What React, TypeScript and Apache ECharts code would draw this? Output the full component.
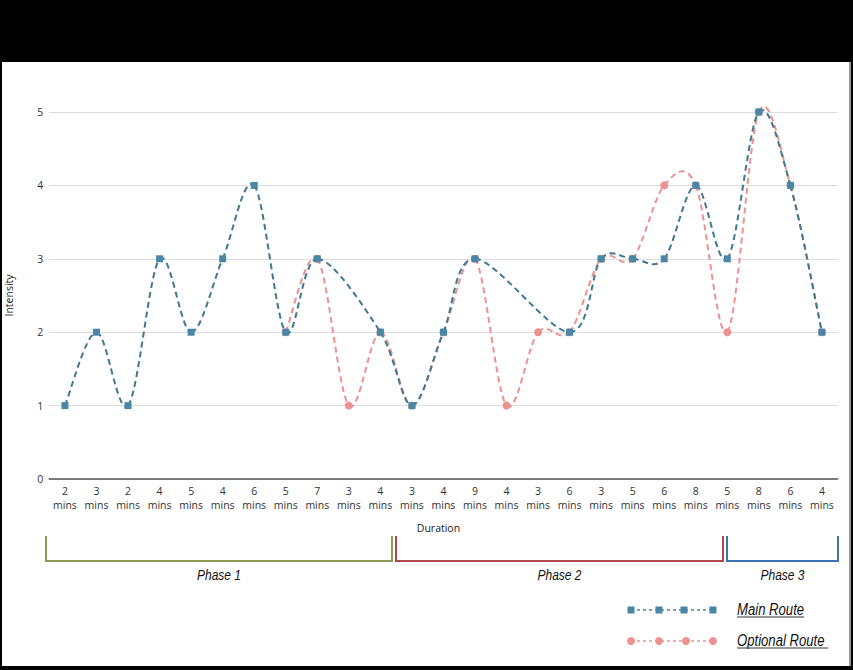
import React, { useEffect, useRef } from "react";
import * as echarts from "echarts";

const categories = ["2","3","2","4","5","4","6","5","7","3","4","3","4","9","4","3","6","3","5","6","8","5","8","6","4"];
const mainRoute = [1,2,1,3,2,3,4,2,3,null,2,1,2,3,null,null,2,3,3,3,4,3,5,4,2];
const optionalRoute = [null,null,null,null,null,null,null,2,3,1,2,1,2,3,1,2,2,3,3,4,4,2,5,4,2];
const phaseNames = ["Phase 1", "Phase 2", "Phase 3"];
const legendNames = ["Main Route", "Optional Route"];

const BLUE = "#4a87a6";
const BLUE_LINE = "#3f7893";
const PINK = "#ee9191";
const ITALIC_FONT = "'Liberation Sans', Arial, sans-serif";
const SANS = "'Open Sans', 'Noto Sans', sans-serif";

// segments of a connected (nulls skipped) curve: [x1,y1,x2,y2,x0,y0,x3,y3]
function buildSegments(arr: (number | null)[]) {
  const pts: number[][] = [];
  arr.forEach((v, i) => {
    if (v !== null && v !== undefined) pts.push([i, v]);
  });
  const segs: number[][] = [];
  for (let k = 0; k < pts.length - 1; k++) {
    const p0 = pts[k - 1] || pts[k];
    const p1 = pts[k];
    const p2 = pts[k + 1];
    const p3 = pts[k + 2] || pts[k + 1];
    segs.push([p1[0], p1[1], p2[0], p2[1], p0[0], p0[1], p3[0], p3[1]]);
  }
  return segs;
}

function curveSeries(name: string, arr: (number | null)[], color: string, z: number) {
  return {
    name,
    type: "custom",
    data: buildSegments(arr),
    dimensions: ["x1", "y1", "x2", "y2", "x0", "y0", "x3", "y3"],
    encode: { x: 0, y: 1 },
    clip: false,
    silent: true,
    z,
    renderItem: (params: any, api: any) => {
      const p1 = api.coord([api.value(0), api.value(1)]);
      const p2 = api.coord([api.value(2), api.value(3)]);
      const p0 = api.coord([api.value(4), api.value(5)]);
      const p3 = api.coord([api.value(6), api.value(7)]);
      return {
        type: "bezierCurve",
        shape: {
          x1: p1[0],
          y1: p1[1],
          x2: p2[0],
          y2: p2[1],
          cpx1: p1[0] + (p2[0] - p0[0]) / 6,
          cpy1: p1[1] + (p2[1] - p0[1]) / 6,
          cpx2: p2[0] - (p3[0] - p1[0]) / 6,
          cpy2: p2[1] - (p3[1] - p1[1]) / 6,
        },
        style: { stroke: color, lineWidth: 2, lineDash: [6, 4], fill: null },
      };
    },
  };
}

export default function App() {
  const ref = useRef<HTMLDivElement>(null);
  useEffect(() => {
    if (!ref.current) return;
    const chart = echarts.init(ref.current, null, { renderer: "svg" });
    const phaseSpans = [
      { x1: 46, x2: 392, color: "#8a9b5a" },
      { x1: 396, x2: 723, color: "#b3464d" },
      { x1: 727, x2: 838, color: "#3f71b2" },
    ];
    const graphic: any[] = [];
    phaseSpans.forEach((p, i) => {
      graphic.push({
        type: "polyline",
        shape: { points: [[p.x1, 536], [p.x1, 561], [p.x2, 561], [p.x2, 536]] },
        style: { stroke: p.color, lineWidth: 2, fill: null },
      });
      graphic.push({
        type: "text",
        x: (p.x1 + p.x2) / 2,
        y: 575,
        scaleX: 0.8,
        style: { text: phaseNames[i], fontSize: 15, fontFamily: ITALIC_FONT, fontStyle: "italic", fill: "#111", align: "center", verticalAlign: "middle" },
      });
    });
    const legendRows = [
      { y: 610, color: BLUE, shape: "rect", xs: [631, 659, 684, 713] },
      { y: 641, color: PINK, shape: "circle", xs: [631, 659, 686, 713] },
    ];
    legendRows.forEach((r, i) => {
      graphic.push({
        type: "line",
        shape: { x1: 631, y1: r.y, x2: 713, y2: r.y },
        style: { stroke: r.color, lineWidth: 1.5, lineDash: [3, 3] },
      });
      r.xs.forEach((x) => {
        if (r.shape === "rect") {
          graphic.push({ type: "rect", shape: { x: x - 3.5, y: r.y - 3.5, width: 7, height: 7 }, style: { fill: r.color } });
        } else {
          graphic.push({ type: "circle", shape: { cx: x, cy: r.y, r: 4 }, style: { fill: r.color } });
        }
      });
      graphic.push({
        type: "text",
        x: 737,
        y: r.y,
        scaleX: 0.82,
        style: { text: legendNames[i], fontSize: 16, fontFamily: ITALIC_FONT, fontStyle: "italic", fill: "#111", align: "left", verticalAlign: "middle" },
      });
      graphic.push({
        type: "line",
        shape: { x1: 737, y1: r.y + 7, x2: i === 0 ? 804 : 828, y2: r.y + 7 },
        style: { stroke: "#333", lineWidth: 1 },
      });
    });

    chart.setOption({
      animation: false,
      backgroundColor: "transparent",
      grid: { left: 49.2, right: 15.3, top: 112, bottom: 191, containLabel: false, outerBoundsMode: "none" },
      xAxis: {
        type: "category",
        data: categories,
        boundaryGap: true,
        name: "Duration",
        nameLocation: "middle",
        nameGap: 43,
        nameTextStyle: { fontFamily: SANS, fontSize: 10.5, color: "#222", padding: [0, 10, 0, 0] },
        axisLine: { show: true, lineStyle: { color: "#555", width: 1.5 } },
        axisTick: { show: false },
        axisLabel: {
          interval: 0,
          margin: 5,
          fontFamily: SANS,
          fontSize: 10.5,
          lineHeight: 14,
          color: "#333",
          formatter: (v: string) => v + "\nmins",
        },
      },
      yAxis: {
        type: "value",
        min: 0,
        max: 5,
        interval: 1,
        name: "Intensity",
        nameLocation: "middle",
        nameGap: 35,
        nameTextStyle: { fontFamily: SANS, fontSize: 10.5, color: "#222" },
        axisLine: { show: false },
        axisTick: { show: false },
        axisLabel: { margin: 6, fontFamily: SANS, fontSize: 10.5, color: "#333" },
        splitLine: { lineStyle: { color: "#dcdcdc", width: 1.2 } },
      },
      series: [
        curveSeries("Optional Route curve", optionalRoute, PINK, 2),
        {
          name: "Optional Route",
          type: "line",
          data: optionalRoute,
          connectNulls: true,
          symbol: "circle",
          symbolSize: 8,
          itemStyle: { color: PINK },
          lineStyle: { width: 0, opacity: 0 },
          z: 3,
        },
        curveSeries("Main Route curve", mainRoute, BLUE_LINE, 4),
        {
          name: "Main Route",
          type: "line",
          data: mainRoute,
          connectNulls: true,
          symbol: "rect",
          symbolSize: 7,
          itemStyle: { color: BLUE },
          lineStyle: { width: 0, opacity: 0 },
          z: 5,
        },
      ],
      graphic,
    });
    return () => chart.dispose();
  }, []);

  return (
    <div style={{ position: "fixed", left: 0, top: 0, width: 853, height: 670, background: "#000", overflow: "hidden" }}>
      <div style={{ position: "absolute", left: 2, top: 62, width: 847, height: 604, background: "#fff" }} />
      <div style={{ position: "absolute", left: 849, top: 62, width: 1.5, height: 604, background: "#9a9a9a" }} />
      <div ref={ref} style={{ position: "absolute", left: 0, top: 0, width: 853, height: 670 }} />
    </div>
  );
}
